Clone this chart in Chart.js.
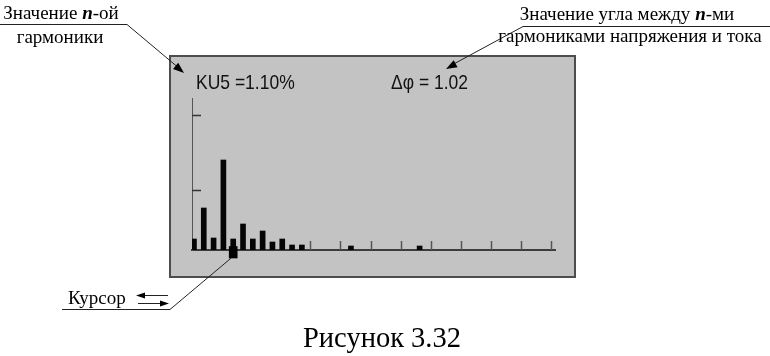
<!DOCTYPE html>
<html>
<head>
<meta charset="utf-8">
<script src="https://cdn.jsdelivr.net/npm/chart.js@4.4.0/dist/chart.umd.min.js"></script>
<style>
  html, body { margin: 0; padding: 0; background: #fff; }
  #page { position: relative; width: 770px; height: 356px; overflow: hidden; }
  #screen {
    position: absolute; left: 169px; top: 55px; width: 403px; height: 219px;
    background: #c3c3c3; border: 2px solid #4d4d4d;
  }
  #myChart { position: absolute; left: 0; top: 0; }
  .note {
    position: absolute; font-family: "Liberation Serif", serif; font-size: 19px;
    line-height: 19px; color: #000; white-space: nowrap; text-align: center;
  }
  .lcd {
    position: absolute; font-family: "Liberation Sans", Arial, sans-serif; font-size: 17.5px;
    line-height: 17.5px; color: #111; white-space: nowrap;
    transform: scaleY(1.2); transform-origin: 0 0;
  }
</style>
</head>
<body>
<div id="page">
  <div id="screen"></div>
  <canvas id="myChart" width="770" height="356"></canvas>

  <div class="note" style="left:0; top:3px; width:122px;">Значение <b><i>n</i></b>-ой</div>
  <div class="note" style="left:0; top:27px; width:120px;">гармоники</div>
  <div class="note" style="left:496px; top:4px; width:262px;">Значение угла между <b><i>n</i></b>-ми</div>
  <div class="note" style="left:490px; top:26px; width:280px;">гармониками напряжения и тока</div>
  <div class="note" style="left:68px; top:288px; text-align:left;">Курсор</div>
  <div class="note" style="left:282px; top:324px; width:200px; font-size:28.5px; line-height:28.5px;">Рисунок 3.32</div>

  <div class="lcd" id="kuText" style="left:196px; top:72px;"></div>
  <div class="lcd" id="phiText" style="left:391px; top:72px;"></div>
</div>

<script>
// harmonic number -> level, %
const harmonics = [1, 2, 3, 4, 5, 6, 7, 8, 9, 10, 11, 12, 17, 24];
const levels = [1.1, 4.2, 1.2, 9.0, 1.1, 2.6, 1.1, 1.9, 0.8, 1.1, 0.5, 0.5, 0.4, 0.4];

const cursorHarmonic = 5;
const cursorSpan = [-0.8, 0.35];
const cursorValue = "1.10";
const phaseAngle = "1.02";

const xTickValues = [12.8, 15.9, 19, 22.1, 25.2, 28.2, 31.3, 34.3, 37.4];
const yTickValues = [6, 13.5];

document.getElementById("kuText").innerText = "KU" + cursorHarmonic + " =" + cursorValue + "%";
document.getElementById("phiText").innerText = "\u0394\u03c6 = " + phaseAngle;

const arrowHead = (ctx, x1, y1, x2, y2, len, half) => {
  const a = Math.atan2(y2 - y1, x2 - x1);
  ctx.beginPath();
  ctx.moveTo(x2, y2);
  ctx.lineTo(x2 - len * Math.cos(a) + half * Math.sin(a), y2 - len * Math.sin(a) - half * Math.cos(a));
  ctx.lineTo(x2 - len * Math.cos(a) - half * Math.sin(a), y2 - len * Math.sin(a) + half * Math.cos(a));
  ctx.closePath();
  ctx.fill();
};

const line = (ctx, pts) => {
  ctx.beginPath();
  ctx.moveTo(pts[0][0], pts[0][1]);
  pts.slice(1).forEach((p) => ctx.lineTo(p[0], p[1]));
  ctx.stroke();
};

// inner tick marks + leader lines
const decorations = {
  id: "decorations",
  afterDraw: (chart) => {
    const ctx = chart.ctx;
    const x = chart.scales.x;
    const y = chart.scales.y;
    ctx.save();

    ctx.strokeStyle = "#333";
    ctx.lineWidth = 1.5;
    yTickValues.forEach((v) => {
      const py = Math.round(y.getPixelForValue(v)) + 0.5;
      line(ctx, [[x.left, py], [x.left + 9, py]]);
    });
    ctx.strokeStyle = "#555";
    xTickValues.forEach((v) => {
      const px = Math.round(x.getPixelForValue(v)) + 0.5;
      line(ctx, [[px, y.bottom - 9], [px, y.bottom]]);
    });

    ctx.strokeStyle = "#222";
    ctx.fillStyle = "#000";
    ctx.lineWidth = 1;
    line(ctx, [[0, 24.5], [127, 24.5], [180, 69]]);
    arrowHead(ctx, 127, 24.5, 184, 73, 11, 4);
    line(ctx, [[770, 26.5], [523, 26.5], [450, 66]]);
    arrowHead(ctx, 523, 26.5, 446, 69, 11, 4);

    const cx = x.getPixelForValue(cursorHarmonic) - 2;
    const cy = y.getPixelForValue(cursorSpan[0]);
    line(ctx, [[62, 309.5], [170, 309.5], [cx, cy]]);
    line(ctx, [[140, 295.5], [168, 295.5]]);
    arrowHead(ctx, 168, 295.5, 136, 295.5, 9, 3);
    line(ctx, [[138, 303.5], [164, 303.5]]);
    arrowHead(ctx, 138, 303.5, 169, 303.5, 9, 3);

    ctx.restore();
  },
};

const config = {
  type: "bar",
  data: {
    datasets: [
      {
        label: "cursor",
        data: [{ x: cursorHarmonic, y: cursorSpan }],
        backgroundColor: "#000",
        barThickness: 8,
        clip: false,
        order: 0,
      },
      {
        label: "KU",
        data: harmonics.map((h, i) => ({ x: h, y: levels[i] })),
        backgroundColor: "#050505",
        barThickness: 5,
        order: 1,
      },
    ],
  },
  options: {
    responsive: false,
    animation: false,
    devicePixelRatio: 1,
    grouped: false,
    layout: { padding: { left: 192, top: 98, right: 215, bottom: 106 } },
    plugins: {
      legend: { display: false },
      tooltip: { enabled: false },
    },
    scales: {
      x: {
        type: "linear",
        min: 0.8,
        max: 37.8,
        offset: false,
        ticks: { display: false },
        grid: { display: false, drawTicks: false },
        border: { display: true, color: "#3c3c3c", width: 2 },
      },
      y: {
        min: 0,
        max: 15.2,
        ticks: { display: false },
        grid: { display: false, drawTicks: false },
        border: { display: true, color: "#555", width: 1 },
      },
    },
  },
  plugins: [decorations],
};

new Chart(document.getElementById("myChart"), config);
</script>
</body>
</html>
